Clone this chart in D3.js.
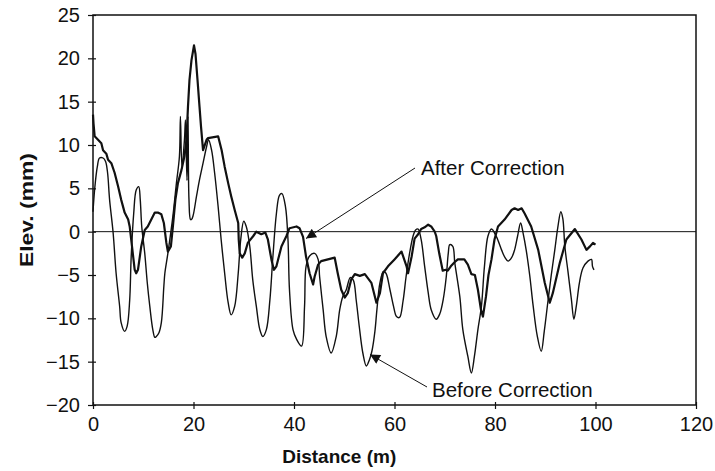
<!DOCTYPE html>
<html>
<head>
<meta charset="utf-8">
<script src="https://cdn.jsdelivr.net/npm/d3@7"></script>
<style>
  body { margin: 0; background: #fff; }
  svg { display: block; font-family: "Liberation Sans", Arial, sans-serif; }
</style>
</head>
<body>
<svg id="chart" width="715" height="471"></svg>
<script>
// Data
const xTicks = [0, 20, 40, 60, 80, 100, 120];
const yTicks = [-20, -15, -10, -5, 0, 5, 10, 15, 20, 25];

// Before Correction (thin line, big swings)
const beforeDist = [0, 0.33, 0.86, 1.3, 2.0, 2.5, 2.9, 3.3, 4.0, 4.6, 5.3, 5.6, 6.3, 6.8, 7.3, 7.6, 8.1, 8.6, 9.1, 9.4,
  9.7, 10.3, 10.8, 11.3, 11.9, 12.3, 12.6, 13.1, 13.6, 14.1, 14.3, 14.9, 15.9, 16.6, 17.2, 17.4, 17.7, 18.2, 18.4, 18.7,
  18.9, 19.1, 19.4, 19.6, 19.9, 20.6, 21.2, 21.9, 22.6, 23.0, 23.6, 24.2, 24.9, 25.5, 26.2, 26.9, 27.5, 28.2, 28.9, 29.4,
  30.0, 30.5, 31.2, 31.8, 32.5, 33.2, 33.8, 34.5, 35.2, 35.8, 36.5, 37.1, 37.6, 38.3, 38.8, 39.1, 39.8, 40.5, 41.5, 42.1,
  42.4, 43.1, 44.1, 44.8, 45.1, 45.8, 46.4, 47.4, 48.4, 49.1, 49.7, 50.4, 51.2, 51.8, 52.4, 53.0, 53.7, 54.4, 55.0, 55.5,
  56.1, 56.5, 57.1, 57.8, 58.3, 59.1, 59.8, 60.4, 61.0, 61.7, 62.3, 63.0, 63.7, 64.2, 64.7, 65.3, 66.0, 66.7, 67.3, 68.3,
  69.0, 69.7, 70.3, 70.7, 71.0, 71.6, 72.0, 73.0, 73.6, 74.6, 75.3, 75.9, 76.6, 77.3, 77.9, 78.6, 79.3, 80.3, 81.3, 82.0,
  82.6, 83.3, 83.9, 84.5, 85.1, 85.6, 86.2, 86.9, 87.6, 88.4, 89.2, 89.8, 90.5, 91.2, 91.9, 92.5, 93.1, 93.5, 93.9, 94.5,
  95.2, 95.7, 96.2, 96.8, 97.5, 98.5, 99.2, 99.4, 99.7];
const beforeElev = [2.3, 4.9, 7.5, 8.5, 8.5, 8.1, 6.8, 3.7, -0.1, -4.8, -8.6, -10.5, -11.5, -10.9, -7.9, -2.9, 2.1, 4.8, 5.2, 3.7,
  0.6, -2.5, -5.9, -8.6, -11.3, -12.2, -12.1, -11.7, -10.5, -6.3, -4.8, -2.5, 1.8, 5.6, 8.7, 13.3, 7.5, 10.6, 12.9, 5.9,
  13.3, 3.7, 1.4, 1.4, 1.8, 4.1, 6.0, 7.9, 9.8, 10.6, 9.4, 6.8, 2.9, -0.9, -4.8, -8.2, -9.6, -8.6, -4.8, -0.9,
  1.2, 0.6, -1.7, -5.6, -8.6, -11.3, -12.1, -11.3, -7.9, -2.9, 2.1, 4.2, 4.4, 2.9, -0.9, -6.7, -11.3, -12.4, -13.2, -8.6,
  -4.0, -2.8, -2.5, -3.2, -5.2, -9.0, -12.1, -14.0, -12.1, -9.0, -7.5, -6.7, -5.3, -5.6, -8.0, -11.0, -14.0, -15.5, -14.8, -13.8,
  -11.5, -9.0, -5.9, -4.6, -4.8, -6.7, -8.6, -9.8, -9.9, -8.0, -5.2, -2.5, -0.5, 0.2, 0.3, -0.9, -4.0, -7.0, -9.0, -10.1,
  -9.5, -7.8, -5.2, -2.5, -1.5, -1.7, -3.6, -7.5, -11.3, -14.4, -16.3, -14.4, -11.3, -8.6, -4.0, -0.5, 0.3, -0.6, -2.1, -3.0,
  -3.4, -3.0, -2.1, -0.5, 1.0, -0.2, -2.1, -5.0, -8.6, -12.0, -13.8, -11.5, -8.2, -5.0, -2.1, 0.5, 2.3, 1.5, -1.7, -4.5,
  -7.8, -10.1, -8.5, -5.9, -4.2, -3.4, -3.2, -4.0, -4.4];

// After Correction (heavier, jagged line)
const afterDist = [0, 0.1, 0.33, 1.0, 1.66, 2.0, 2.65, 3.0, 3.65, 4.3, 5.0, 5.6, 6.3, 7.0, 7.3, 7.6, 8.0, 8.3, 8.6, 8.95,
  9.6, 10.3, 10.9, 11.6, 12.3, 12.9, 13.6, 14.1, 14.6, 14.9, 15.5, 15.9, 16.4, 16.9, 17.6, 18.2, 18.6, 18.9, 19.2, 19.6,
  20.1, 20.4, 20.8, 21.2, 21.5, 21.9, 22.6, 22.9, 24.9, 25.6, 26.2, 26.9, 27.5, 28.2, 28.9, 29.0, 29.2, 29.7, 30.2, 30.8,
  31.9, 32.5, 33.5, 34.3, 34.8, 35.5, 36.0, 36.5, 37.5, 38.5, 39.1, 40.5, 41.1, 41.8, 42.4, 43.1, 43.8, 44.1, 44.8, 45.4,
  48.1, 48.7, 49.4, 50.1, 50.7, 51.4, 52.1, 53.1, 54.1, 55.4, 56.4, 57.1, 57.7, 58.7, 60.0, 61.4, 62.4, 62.7, 63.4, 64.0,
  64.7, 65.3, 66.0, 66.7, 67.3, 68.0, 68.3, 68.9, 69.6, 70.2, 70.6, 71.2, 72.0, 72.6, 73.9, 74.6, 75.3, 76.0, 76.6, 77.2,
  77.6, 78.2, 78.7, 79.3, 79.9, 80.6, 81.9, 83.3, 83.9, 84.6, 85.3, 85.9, 87.2, 88.6, 89.9, 90.9, 91.5, 92.9, 94.2, 95.9,
  97.2, 98.2, 98.9, 99.5, 100];
const afterElev = [13.5, 12.5, 11.0, 10.6, 10.2, 9.4, 9.0, 8.3, 7.9, 6.8, 5.2, 3.7, 2.2, 1.4, 0.6, -0.9, -2.9, -4.4, -4.8, -4.4,
  -1.7, 0.2, 0.6, 1.4, 2.2, 2.2, 2.0, 1.0, -1.3, -2.3, -1.7, 0.6, 3.7, 5.6, 7.1, 8.7, 10.6, 14.4, 17.5, 19.8,
  21.5, 20.5, 17.5, 14.4, 12.1, 9.4, 10.6, 10.8, 11.0, 9.4, 7.5, 5.6, 4.1, 2.5, 1.0, -0.9, -2.5, -3.0, -2.5, -1.3,
  -0.5, 0, -0.3, -0.1, -0.9, -3.2, -4.4, -4.0, -1.7, -0.5, 0.4, 0.6, 0.4, -0.6, -2.9, -4.8, -6.1, -5.2, -3.8, -3.4,
  -3.0, -4.8, -6.7, -7.6, -7.1, -5.5, -4.9, -5.1, -4.9, -5.9, -8.2, -7.1, -4.8, -4.0, -3.2, -2.3, -4.0, -4.8, -2.9, -0.8,
  -0.3, 0.3, 0.5, 0.8, 0.6, 0, -0.5, -2.5, -4.5, -4.4, -4.5, -4.0, -3.5, -3.2, -3.2, -3.8, -4.9, -5.0, -6.7, -9.0,
  -9.8, -7.5, -5.0, -3.2, -0.9, 0.6, 1.4, 2.5, 2.7, 2.5, 2.7, 2.1, 0.6, -2.1, -5.9, -8.2, -7.1, -3.6, -0.9, 0.3,
  -0.9, -2.1, -1.7, -1.3, -1.5];

const before = beforeDist.map((d, i) => ({ x: d, y: beforeElev[i] }));
const after = afterDist.map((d, i) => ({ x: d, y: afterElev[i] }));

// Layout
const svg = d3.select('#chart');
const margin = { left: 93, top: 15, right: 19, bottom: 66 };
const W = 715 - margin.left - margin.right;
const H = 471 - margin.top - margin.bottom;
const g = svg.append('g').attr('transform', `translate(${margin.left},${margin.top})`);

const x = d3.scaleLinear().domain([0, 120]).range([0, W]);
const y = d3.scaleLinear().domain([-20, 25]).range([H, 0]);

// Frame
g.append('rect').attr('width', W).attr('height', H)
  .attr('fill', 'none').attr('stroke', '#111').attr('stroke-width', 1.5);

// Zero line
g.append('line').attr('x1', 0).attr('x2', W).attr('y1', y(0)).attr('y2', y(0))
  .attr('stroke', '#111').attr('stroke-width', 1);

// Axes
const xAxis = g.append('g').attr('transform', `translate(0,${H})`)
  .call(d3.axisBottom(x).tickValues(xTicks).tickSize(4).tickPadding(8));
const yAxis = g.append('g')
  .call(d3.axisLeft(y).tickValues(yTicks).tickSize(5).tickPadding(8));
[xAxis, yAxis].forEach(a => {
  a.select('.domain').remove();
  a.selectAll('line').attr('stroke', '#111').attr('stroke-width', 1.2);
  a.selectAll('text').attr('font-size', 20).attr('fill', '#111')
    .attr('font-family', '"Liberation Sans", Arial, sans-serif');
});
xAxis.selectAll('line').attr('y1', -3);
yAxis.selectAll('line').attr('x1', 3);

// Lines
const smooth = d3.line().x(d => x(d.x)).y(d => y(d.y)).curve(d3.curveCatmullRom.alpha(0.5));
const line = d3.line().x(d => x(d.x)).y(d => y(d.y));
g.append('path').datum(before).attr('d', smooth)
  .attr('fill', 'none').attr('stroke', '#111').attr('stroke-width', 1.4).attr('stroke-linejoin', 'round');
g.append('path').datum(after).attr('d', line)
  .attr('fill', 'none').attr('stroke', '#111').attr('stroke-width', 2.2).attr('stroke-linejoin', 'round');

// Arrowhead marker
svg.append('defs').append('marker')
  .attr('id', 'arrow').attr('viewBox', '0 0 10 10').attr('refX', 10).attr('refY', 5)
  .attr('markerWidth', 13).attr('markerHeight', 10).attr('markerUnits', 'userSpaceOnUse')
  .attr('orient', 'auto')
  .append('path').attr('d', 'M0,0 L10,5 L0,10 Z').attr('fill', '#111');

// Annotations
svg.append('line').attr('x1', 415).attr('y1', 168).attr('x2', 306).attr('y2', 238.5)
  .attr('stroke', '#111').attr('stroke-width', 1).attr('marker-end', 'url(#arrow)');
svg.append('text').attr('x', 421).attr('y', 175).attr('font-size', 20.5).attr('fill', '#111')
  .text('After Correction');

svg.append('line').attr('x1', 427).attr('y1', 387).attr('x2', 370).attr('y2', 354.5)
  .attr('stroke', '#111').attr('stroke-width', 1).attr('marker-end', 'url(#arrow)');
svg.append('text').attr('x', 432).attr('y', 397).attr('font-size', 20.5).attr('fill', '#111')
  .text('Before Correction');

// Axis titles
svg.append('text').attr('x', margin.left + x(49)).attr('y', 463)
  .attr('text-anchor', 'middle').attr('font-size', 19).attr('font-weight', 'bold').attr('fill', '#111')
  .text('Distance (m)');
svg.append('text').attr('transform', 'translate(33,210) rotate(-90)')
  .attr('text-anchor', 'middle').attr('font-size', 19).attr('font-weight', 'bold').attr('fill', '#111')
  .attr('textLength', 114).attr('lengthAdjust', 'spacingAndGlyphs')
  .text('Elev. (mm)');
</script>
</body>
</html>
